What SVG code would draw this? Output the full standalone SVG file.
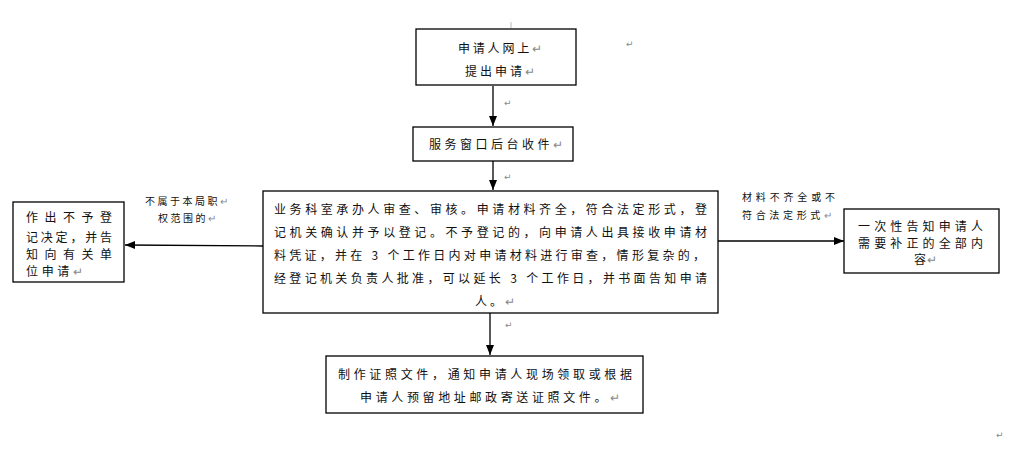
<svg xmlns="http://www.w3.org/2000/svg" width="1014" height="457" viewBox="0 0 1014 457">
<style>
.box{fill:#fff;stroke:#000;stroke-width:1.3}
.t{font-family:"Noto Sans CJK SC","Liberation Sans",sans-serif;font-size:12px;fill:#111}
.s{font-family:"Noto Sans CJK SC","Liberation Sans",sans-serif;font-size:10px;fill:#111}
.m{fill:#888}
.pm{font-family:"DejaVu Sans",sans-serif;font-size:9px;fill:#888}
.ln{stroke:#000;stroke-width:1.3;fill:none}
</style>
<defs>
<marker id="ah" viewBox="0 0 10 10" refX="10" refY="5" markerWidth="10" markerHeight="10" markerUnits="userSpaceOnUse" orient="auto">
<path d="M0,1 L10,5 L0,9 Z" fill="#000"/>
</marker>
</defs>
<rect width="1014" height="457" fill="#fff"/>
<g id="connectors">
<line x1="511" y1="22" x2="511" y2="28" stroke="#aaa" stroke-width="0.8"/>
<line class="ln" x1="493" y1="86" x2="493" y2="126" marker-end="url(#ah)"/>
<line class="ln" x1="493" y1="161" x2="493" y2="190" marker-end="url(#ah)"/>
<line class="ln" x1="263" y1="246" x2="125" y2="245" marker-end="url(#ah)"/>
<line class="ln" x1="718" y1="241" x2="844" y2="241" marker-end="url(#ah)"/>
<line class="ln" x1="490" y1="313" x2="490" y2="355" marker-end="url(#ah)"/>
<text class="s" x="145" y="205" textLength="83" lengthAdjust="spacing">不属于本局职<tspan class="m">↵</tspan></text>
<text class="s" x="158" y="222" textLength="58" lengthAdjust="spacing">权范围的<tspan class="m">↵</tspan></text>
<text class="s" x="742" y="201" textLength="93" lengthAdjust="spacing">材料不齐全或不</text>
<text class="s" x="742" y="219" textLength="90" lengthAdjust="spacing">符合法定形式<tspan class="m">↵</tspan></text>
</g>
<g id="n1">
<rect class="box" x="416" y="29" width="160" height="56"/>
<text class="t" x="458" y="53" textLength="84" lengthAdjust="spacing">申请人网上<tspan class="m">↵</tspan></text>
<text class="t" x="465" y="76" textLength="70" lengthAdjust="spacing">提出申请<tspan class="m">↵</tspan></text>
</g>
<g id="n2">
<rect class="box" x="413" y="127" width="160" height="34"/>
<text class="t" x="429" y="149" textLength="134" lengthAdjust="spacing">服务窗口后台收件<tspan class="m">↵</tspan></text>
</g>
<g id="n3">
<rect class="box" x="263" y="191" width="455" height="122"/>
<text class="t" x="274" y="214" textLength="433" lengthAdjust="spacing">业务科室承办人审查、审核。申请材料齐全，符合法定形式，登</text>
<text class="t" x="274" y="237" textLength="433" lengthAdjust="spacing">记机关确认并予以登记。不予登记的，向申请人出具接收申请材</text>
<text class="t" x="274" y="260" textLength="431" lengthAdjust="spacing">料凭证，并在 3 个工作日内对申请材料进行审查，情形复杂的，</text>
<text class="t" x="274" y="283" textLength="433" lengthAdjust="spacing">经登记机关负责人批准，可以延长 3 个工作日，并书面告知申请</text>
<text class="t" x="475" y="306" textLength="40" lengthAdjust="spacing">人。<tspan class="m">↵</tspan></text>
</g>
<g id="n4">
<rect class="box" x="13" y="202" width="111" height="80"/>
<text class="t" x="26" y="222" textLength="86" lengthAdjust="spacing">作出不予登</text>
<text class="t" x="26" y="242" textLength="86" lengthAdjust="spacing">记决定，并告</text>
<text class="t" x="26" y="259" textLength="86" lengthAdjust="spacing">知向有关单</text>
<text class="t" x="26" y="276" textLength="57" lengthAdjust="spacing">位申请<tspan class="m">↵</tspan></text>
</g>
<g id="n5">
<rect class="box" x="844" y="209" width="155" height="64"/>
<text class="t" x="858" y="231" textLength="125" lengthAdjust="spacing">一次性告知申请人</text>
<text class="t" x="858" y="248" textLength="125" lengthAdjust="spacing">需要补正的全部内</text>
<text class="t" x="914" y="264" textLength="23" lengthAdjust="spacing">容<tspan class="m">↵</tspan></text>
</g>
<g id="n6">
<rect class="box" x="326" y="356" width="317" height="57"/>
<text class="t" x="338" y="379" textLength="294" lengthAdjust="spacing">制作证照文件，通知申请人现场领取或根据</text>
<text class="t" x="360" y="402" textLength="260" lengthAdjust="spacing">申请人预留地址邮政寄送证照文件。<tspan class="m">↵</tspan></text>
</g>
<g id="marks">
<text class="pm" x="626" y="47">↵</text>
<text class="pm" x="504" y="106">↵</text>
<text class="pm" x="504" y="180">↵</text>
<text class="pm" x="505" y="328">↵</text>
<text class="pm" x="996" y="438">↵</text>
</g>
</svg>
